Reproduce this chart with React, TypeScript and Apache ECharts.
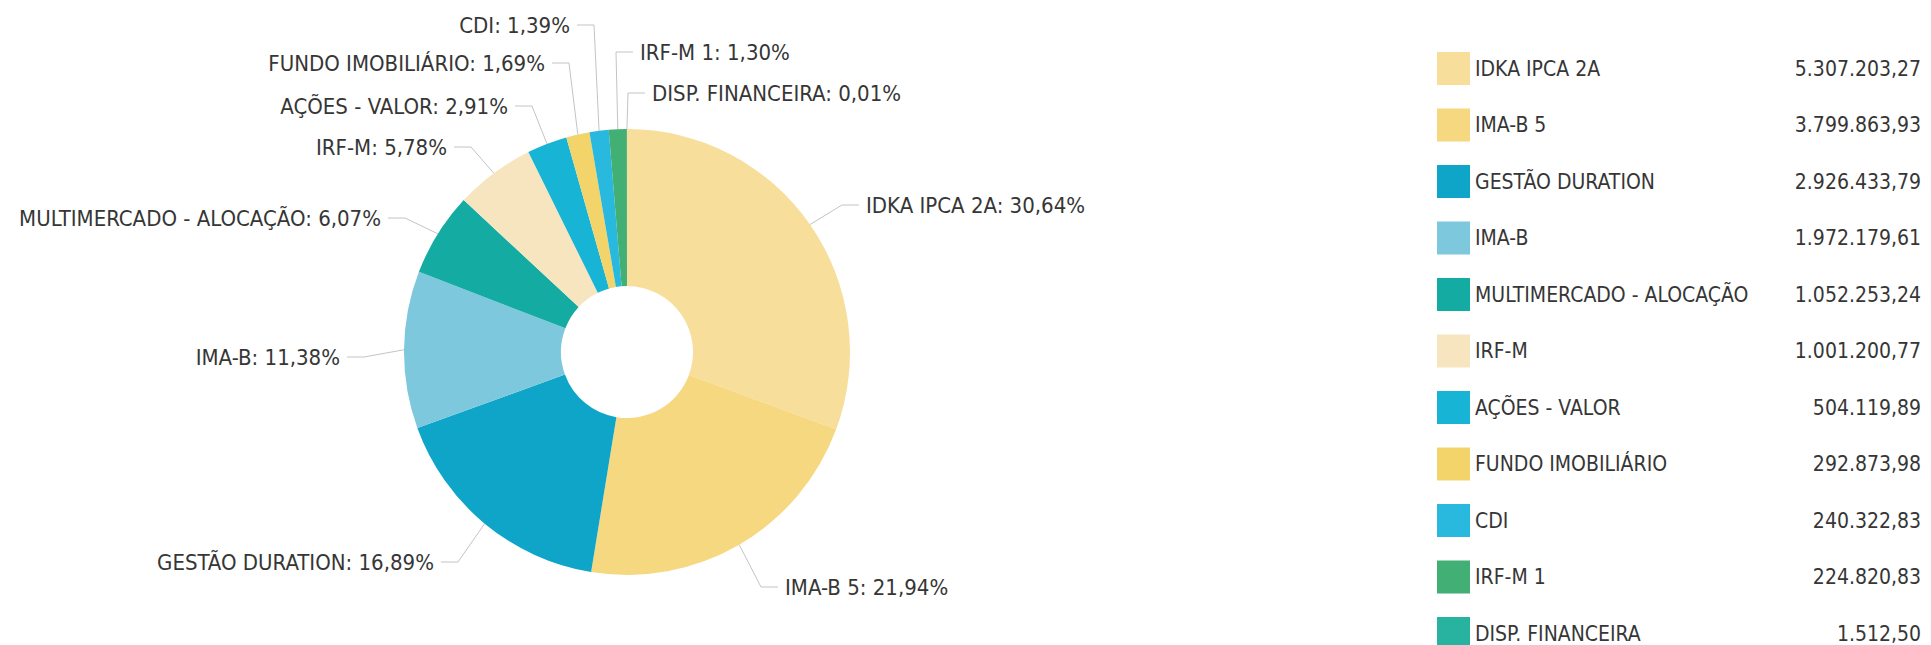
import React, { useEffect, useRef } from 'react';
import * as echarts from 'echarts';

const categories = [
  'IDKA IPCA 2A',
  'IMA-B 5',
  'GESTÃO DURATION',
  'IMA-B',
  'MULTIMERCADO - ALOCAÇÃO',
  'IRF-M',
  'AÇÕES - VALOR',
  'FUNDO IMOBILIÁRIO',
  'CDI',
  'IRF-M 1',
  'DISP. FINANCEIRA',
];
const values = [
  5307203.27, 3799863.93, 2926433.79, 1972179.61, 1052253.24, 1001200.77,
  504119.89, 292873.98, 240322.83, 224820.83, 1512.5,
];
const colors = [
  '#F8DE9B', '#F6D880', '#0EA5C9', '#7DC8DD', '#14ABA3', '#F7E5C0',
  '#17B4D6', '#F3D46A', '#29B8DE', '#42AF74', '#27B39F',
];
// label anchor [x, y, side of slice]
const labelAnchors: [number, number, string][] = [
  [866, 205, 'L'], [785, 587, 'L'], [434, 562, 'R'], [340, 357, 'R'],
  [381, 218, 'R'], [447, 147, 'R'], [508, 106, 'R'], [545, 63, 'R'],
  [570, 25, 'R'], [640, 52, 'L'], [652, 93, 'L'],
];

const FONT = '"DejaVu Sans Condensed", "DejaVu Sans", Verdana, sans-serif';
const TEXT = '#363636';

function fmtBR(v: number): string {
  const [i, d] = v.toFixed(2).split('.');
  return i.replace(/\B(?=(\d{3})+(?!\d))/g, '.') + ',' + d;
}

export default function App() {
  const ref = useRef<HTMLDivElement>(null);
  useEffect(() => {
    if (!ref.current) return;
    const chart = echarts.init(ref.current, undefined, { renderer: 'svg' });
    const total = values.reduce((a, b) => a + b, 0);
    const data = categories.map((name, i) => ({
      name,
      value: values[i],
      itemStyle: { color: colors[i] },
    }));
    chart.setOption({
      animation: false,
      backgroundColor: '#ffffff',
      legend: {
        orient: 'vertical',
        left: 1437,
        top: 52,
        height: 800,
        padding: 0,
        itemWidth: 33,
        itemHeight: 33,
        itemGap: 23.5,
        icon: 'rect',
        selectedMode: false,
        data: categories,
        formatter: (name: string) => {
          const i = categories.indexOf(name);
          return `{n|${name}}{v|${fmtBR(values[i])}}`;
        },
        textStyle: {
          fontFamily: FONT,
          fontSize: 21,
          color: TEXT,
          rich: {
            n: { width: 306, fontFamily: FONT, fontSize: 21, color: TEXT },
            v: { width: 140, align: 'right', fontFamily: FONT, fontSize: 21, color: TEXT },
          },
        },
      },
      series: [
        {
          type: 'pie',
          center: [627, 352],
          radius: [66, 223],
          startAngle: 90,
          clockwise: true,
          avoidLabelOverlap: false,
          emphasis: { disabled: true },
          itemStyle: { borderWidth: 0 },
          data,
          label: {
            show: true,
            position: 'outside',
            fontFamily: FONT,
            fontSize: 22,
            color: TEXT,
            formatter: (p: any) =>
              `${p.name}: ${((p.value / total) * 100).toFixed(2).replace('.', ',')}%`,
          },
          labelLine: {
            show: true,
            length: 15,
            length2: 15,
            lineStyle: { color: '#c4c4c4', width: 1 },
          },
          labelLayout: (params: any) => {
            const a = labelAnchors[params.dataIndex];
            const x = a[0];
            const y = a[1];
            const isLeft = a[2] === 'L';
            const pts = params.labelLinePoints;
            const p0 = pts ? pts[0] : [x, y];
            const p2 = [isLeft ? x - 7 : x + 7, y];
            const p1 = [isLeft ? x - 24 : x + 24, y];
            return {
              x,
              y,
              align: isLeft ? 'left' : 'right',
              verticalAlign: 'middle',
              labelLinePoints: [p0, p1, p2],
            };
          },
        },
      ],
    });
    return () => chart.dispose();
  }, []);
  return (
    <div
      ref={ref}
      style={{ position: 'absolute', left: 0, top: 0, width: 1931, height: 645, background: '#fff' }}
    />
  );
}
